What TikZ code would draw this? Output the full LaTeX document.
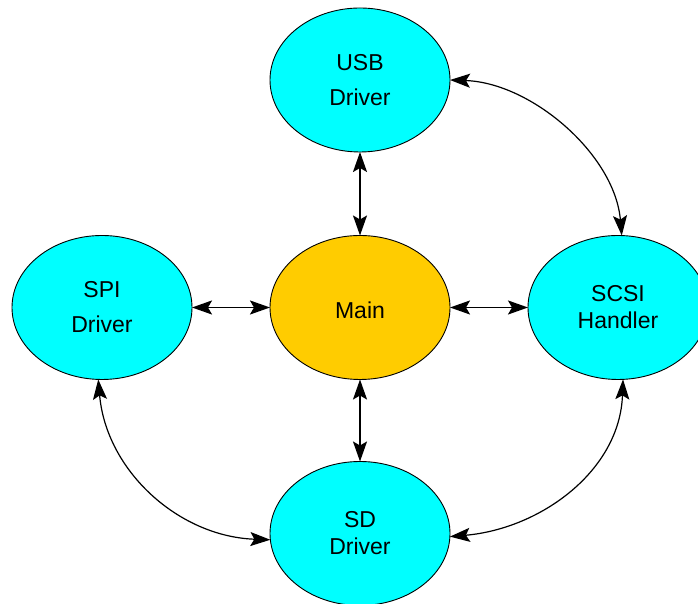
\documentclass[tikz,border=0pt]{standalone}
\usepackage{fontspec}
\setmainfont{Liberation Sans}
\usetikzlibrary{shapes.geometric,arrows.meta}
\definecolor{cyanfill}{HTML}{00FFFF}
\definecolor{mainfill}{HTML}{FFCC00}
\begin{document}
\begin{tikzpicture}[x=1pt,y=1pt,
  blob/.style={ellipse, draw=black, line width=0.9pt, minimum width=180pt,
    minimum height=144pt, inner sep=0pt, outer sep=0pt, align=center,
    font=\fontsize{23}{27}\selectfont, text=black},
  drv/.style={blob, fill=cyanfill},
  widegap/.style={font=\fontsize{23}{35}\selectfont},
  link/.style={line width=1.9pt, {Stealth[length=20pt,width=14pt,inset=4pt]}-{Stealth[length=20pt,width=14pt,inset=4pt]}},
  curvelink/.style={line width=1.2pt, {Stealth[length=20pt,width=14pt,inset=4pt]}-{Stealth[length=20pt,width=14pt,inset=4pt]}}]
\useasboundingbox (0,0) rectangle (698,604);
\clip (0,0) rectangle (698,604);
\fill[white] (0,0) rectangle (698,604);
\node[drv, widegap] (usb) at (360,524) {USB\\Driver};
\node[blob, fill=mainfill, text height=23pt, text depth=0pt] (main) at (360,296.5) {Main};
\node[drv, widegap] (spi) at (102,296.5) {SPI\\Driver};
\node[drv] (scsi) at (618,296.5) {SCSI\\Handler};
\node[drv] (sd) at (360,70.5) {SD\\Driver};
\draw[link] (usb) -- (main);
\draw[link] (main) -- (sd);
\draw[link] (spi) -- (main);
\draw[link] (main) -- (scsi);
\draw[curvelink] (usb.east) to[out=-2,in=95,looseness=0.9] (scsi.87);
\draw[curvelink] (spi.-93) to[out=-85,in=178] (sd.184);
\draw[curvelink] (sd.-2) to[out=5,in=-92] (scsi.-86);
\end{tikzpicture}
\end{document}
